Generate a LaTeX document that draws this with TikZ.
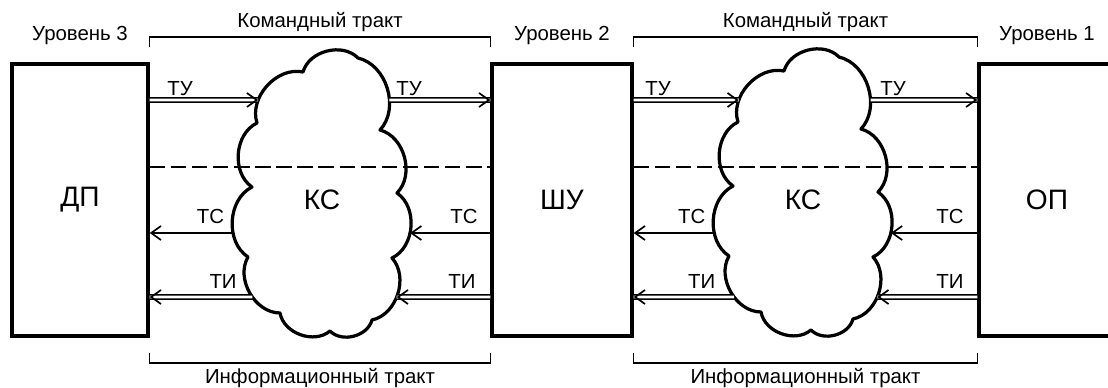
\documentclass[tikz,border=0pt]{standalone}
\usepackage{fontspec}
\setmainfont{Liberation Sans}
\usetikzlibrary{arrows.meta,intersections,decorations.markings,positioning}

\tikzstyle{blok} = [draw=black, line width=2.4pt, rectangle, minimum width=3.4cm, minimum height=6.8cm, inner sep=0pt, font=\fontsize{20}{24}\selectfont]
\tikzstyle{oblako} = [draw=black, line width=2.3pt, line join=round]
\tikzstyle{ks} = [inner sep=0pt, font=\fontsize{20}{24}\selectfont]
\tikzstyle{nadpis} = [font=\fontsize{14.5}{17}\selectfont, inner sep=0pt]
\tikzstyle{odin} = [draw=black, line width=1.2pt, -{Straight Barb[length=7pt,width=10pt]}]
\tikzstyle{dvoj} = [draw=black, line width=1.1pt, double=white, double distance=1.8pt, postaction={decorate}, decoration={markings, mark=at position 1 with {\arrow[line width=1.2pt]{Straight Barb[length=7pt,width=10pt]}}}]
\tikzstyle{shtrih} = [draw=black, line width=1.8pt, dash pattern=on 11pt off 4pt]
\tikzstyle{skobka} = [draw=black, line width=0.9pt]

% kontur oblaka (otnositelno tsentra)
\def\kontur{(-19,-127) to[bend left=60] (36,-141) to[bend left=60] (58,-69)
  to[bend left=60] (75,-6) to[bend left=60] (70,59) to[bend left=60] (50,121)
  to[bend left=60] (8,132) to[bend left=60] (-42,114) to[bend left=60] (-74,58)
  to[bend left=60] (-70,-12) to[bend left=60] (-65,-76) to[bend left=60] cycle}

\begin{document}
\begin{tikzpicture}[x=0.025cm, y=-0.025cm]
\useasboundingbox (0,0) rectangle (1108,387);
\clip (0,0) rectangle (1108,387);

% urovni
\node [blok] (dp) at (80,200) {ДП};
\node [blok, minimum width=3.5cm] (shu) at (562,200) {ШУ};
\node [blok] (op) at (1047,200) {ОП};
\node [nadpis, above=12pt of dp] (u3) {Уровень 3};
\node [nadpis, above=12pt of shu] (u2) {Уровень 2};
\node [nadpis, above=12pt of op] (u1) {Уровень 1};

% kanaly svyazi
\draw [oblako, name path=kc1, shift={(322,199)}] \kontur;
\draw [oblako, name path=kc2, shift={(803,198)}] \kontur;
\node [ks] (ks1) at (322,200) {КС};
\node [ks] (ks2) at (803,200) {КС};

% urovni strelok
\coordinate (rTU) at (0,100);
\coordinate (rDS) at (0,167);
\coordinate (rTC) at (0,233);
\coordinate (rTI) at (0,297);

\path [name path=lTU1] (dp.east |- rTU) -- (shu.west |- rTU);
\path [name path=lTC1] (dp.east |- rTC) -- (shu.west |- rTC);
\path [name path=lTI1] (dp.east |- rTI) -- (shu.west |- rTI);
\path [name path=lTU2] (shu.east |- rTU) -- (op.west |- rTU);
\path [name path=lTC2] (shu.east |- rTC) -- (op.west |- rTC);
\path [name path=lTI2] (shu.east |- rTI) -- (op.west |- rTI);
\path [name intersections={of=lTU1 and kc1, sort by=lTU1, by={a1,b1}}];
\path [name intersections={of=lTC1 and kc1, sort by=lTC1, by={c1,d1}}];
\path [name intersections={of=lTI1 and kc1, sort by=lTI1, by={e1,f1}}];
\path [name intersections={of=lTU2 and kc2, sort by=lTU2, by={a2,b2}}];
\path [name intersections={of=lTC2 and kc2, sort by=lTC2, by={c2,d2}}];
\path [name intersections={of=lTI2 and kc2, sort by=lTI2, by={e2,f2}}];

% shtrikhovaya granitsa
\draw [shtrih] (dp.east |- rDS) -- (shu.west |- rDS);
\draw [shtrih] (shu.east |- rDS) -- (op.west |- rDS);

% komandnyi trakt
\draw [dvoj] (dp.east |- rTU) -- node [nadpis, pos=0, anchor=base west, xshift=12pt, yshift=3.5pt] {ТУ} (a1);
\draw [dvoj] (b1) -- node [nadpis, pos=0, anchor=base west, xshift=4.3pt, yshift=3.5pt] {ТУ} (shu.west |- rTU);
\draw [dvoj] (shu.east |- rTU) -- node [nadpis, pos=0, anchor=base west, xshift=7.8pt, yshift=3.5pt] {ТУ} (a2);
\draw [dvoj] (b2) -- node [nadpis, pos=0, anchor=base west, xshift=6.4pt, yshift=3.5pt] {ТУ} (op.west |- rTU);

% informatsionnyi trakt
\draw [odin] (c1) -- node [nadpis, pos=0, anchor=base east, xshift=-5.7pt, yshift=7pt] {ТС} (dp.east |- rTC);
\draw [odin] (shu.west |- rTC) -- node [nadpis, pos=0, anchor=base east, xshift=-8.5pt, yshift=7pt] {ТС} (d1);
\draw [odin] (c2) -- node [nadpis, pos=0, anchor=base east, xshift=-5.7pt, yshift=7pt] {ТС} (shu.east |- rTC);
\draw [odin] (op.west |- rTC) -- node [nadpis, pos=0, anchor=base east, xshift=-9.2pt, yshift=7pt] {ТС} (d2);
\draw [dvoj] (e1) -- node [nadpis, pos=0, anchor=base east, xshift=-10.6pt, yshift=6.4pt] {ТИ} (dp.east |- rTI);
\draw [dvoj] (shu.west |- rTI) -- node [nadpis, pos=0, anchor=base east, xshift=-10pt, yshift=6.4pt] {ТИ} (f1);
\draw [dvoj] (e2) -- node [nadpis, pos=0, anchor=base east, xshift=-12.8pt, yshift=6.4pt] {ТИ} (shu.east |- rTI);
\draw [dvoj] (op.west |- rTI) -- node [nadpis, pos=0, anchor=base east, xshift=-9.2pt, yshift=6.4pt] {ТИ} (f2);

% skobki traktov
\coordinate (bT1) at (0,37);
\coordinate (bT2) at (0,47);
\coordinate (bB1) at (0,363);
\coordinate (bB2) at (0,353);
\draw [skobka] (dp.east |- bT2) -- (dp.east |- bT1) -- node [nadpis, above=3pt] {Командный тракт} (shu.west |- bT1) -- (shu.west |- bT2);
\draw [skobka] (shu.east |- bT2) -- (shu.east |- bT1) -- node [nadpis, above=3pt] {Командный тракт} (op.west |- bT1) -- (op.west |- bT2);
\draw [skobka] (dp.east |- bB2) -- (dp.east |- bB1) -- node [nadpis, below=3.5pt] {Информационный тракт} (shu.west |- bB1) -- (shu.west |- bB2);
\draw [skobka] (shu.east |- bB2) -- (shu.east |- bB1) -- node [nadpis, below=3.5pt] {Информационный тракт} (op.west |- bB1) -- (op.west |- bB2);
\end{tikzpicture}
\end{document}
